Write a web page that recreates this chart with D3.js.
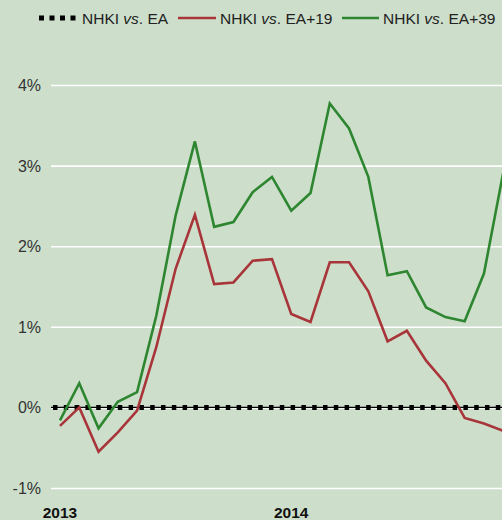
<!DOCTYPE html>
<html>
<head>
<meta charset="utf-8">
<script src="https://cdn.jsdelivr.net/npm/d3@7"></script>
<style>
  html, body { margin: 0; padding: 0; background: #cddfcb; }
  svg { display: block; font-family: "Liberation Sans", Arial, sans-serif; }
</style>
</head>
<body>
<div id="chart"></div>
<script>
(function() {
  var W = 502, H = 520;

  // monthly, Jan 2013 onward (%)
  var months = d3.range(24);
  var ea = months.map(function() { return 0; });
  var ea19 = [-0.23, 0.00, -0.55, -0.31, -0.04, 0.75, 1.72, 2.39, 1.53, 1.55, 1.82, 1.84,
              1.16, 1.06, 1.80, 1.80, 1.44, 0.82, 0.95, 0.58, 0.30, -0.13, -0.20, -0.29];
  var ea39 = [-0.16, 0.30, -0.26, 0.07, 0.19, 1.14, 2.38, 3.30, 2.24, 2.30, 2.67, 2.86,
              2.44, 2.66, 3.77, 3.46, 2.86, 1.64, 1.69, 1.24, 1.12, 1.07, 1.66, 2.91];
  var yTicks = [-1, 0, 1, 2, 3, 4];
  var yearLabels = [{ i: 0, label: "2013" }, { i: 12, label: "2014" }];

  var svg = d3.select("#chart").append("svg").attr("width", W).attr("height", H);

  var x = d3.scaleLinear().domain([0, 23]).range([60, 60 + 23 * 19.27]);
  var y = d3.scaleLinear().domain([-1, 4]).range([488, 85]);

  // grid + labels
  var yAxis = svg.append("g").attr("transform", "translate(51,0)")
    .call(d3.axisLeft(y).tickValues(yTicks).tickSize(-(W - 51)).tickPadding(10)
      .tickFormat(function(d) { return d + "%"; }));
  yAxis.select(".domain").remove();
  yAxis.selectAll(".tick line").attr("stroke", "#fff").attr("stroke-width", 1.6);
  yAxis.selectAll(".tick text").attr("fill", "#333").attr("font-size", 16).attr("dy", "0.34em");

  svg.selectAll(".year").data(yearLabels).enter().append("text")
    .attr("class", "year")
    .attr("x", function(d) { return x(d.i); })
    .attr("y", 518)
    .attr("text-anchor", "middle")
    .attr("font-size", 15.5).attr("font-weight", "bold").attr("fill", "#111")
    .text(function(d) { return d.label; });

  var line = d3.line().x(function(d, i) { return x(i); }).y(function(d) { return y(d); });

  // zero series: thin line with square dots
  svg.append("line").attr("x1", 51).attr("x2", W).attr("y1", y(ea[0])).attr("y2", y(ea[0]))
    .attr("stroke", "#000").attr("stroke-width", 1.2);
  svg.append("line").attr("x1", 53).attr("x2", W).attr("y1", y(ea[0])).attr("y2", y(ea[0]))
    .attr("stroke", "#000").attr("stroke-width", 5).attr("stroke-dasharray", "4.5,6.3");

  svg.append("path").datum(ea19).attr("d", line)
    .attr("fill", "none").attr("stroke", "#a8353a").attr("stroke-width", 2.6)
    .attr("stroke-linejoin", "miter");
  svg.append("path").datum(ea39).attr("d", line)
    .attr("fill", "none").attr("stroke", "#2e8630").attr("stroke-width", 2.6)
    .attr("stroke-linejoin", "miter");

  // legend
  var leg = svg.append("g").attr("font-size", 15.5).attr("fill", "#222");
  leg.append("line").attr("x1", 39).attr("x2", 78).attr("y1", 18).attr("y2", 18)
    .attr("stroke", "#000").attr("stroke-width", 5).attr("stroke-dasharray", "5,5.5");
  leg.append("line").attr("x1", 178).attr("x2", 216).attr("y1", 18).attr("y2", 18)
    .attr("stroke", "#a8353a").attr("stroke-width", 2.6);
  leg.append("line").attr("x1", 342).attr("x2", 379).attr("y1", 18).attr("y2", 18)
    .attr("stroke", "#2e8630").attr("stroke-width", 2.6);

  var items = [{ x: 82, s: "EA" }, { x: 220, s: "EA+19" }, { x: 383, s: "EA+39" }];
  items.forEach(function(it) {
    var t = leg.append("text").attr("x", it.x).attr("y", 23.5);
    t.append("tspan").text("NHKI ");
    t.append("tspan").attr("font-style", "italic").text("vs");
    t.append("tspan").text(". " + it.s);
  });
}).call(this);
</script>
</body>
</html>
